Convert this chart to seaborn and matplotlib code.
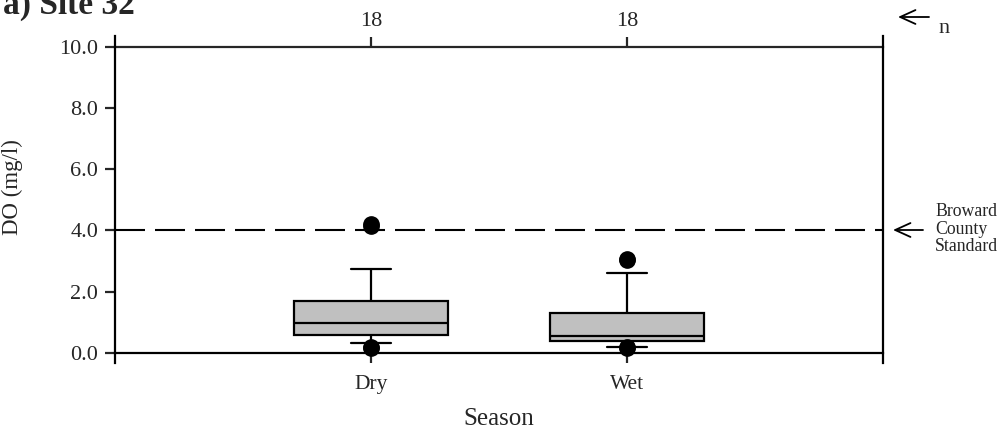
import matplotlib
matplotlib.use('Agg')
import matplotlib.pyplot as plt
import seaborn as sns
import pandas as pd

# data (18 samples per season)
seasons = ['Dry', 'Wet']
dry_do = [0.15, 0.17, 0.32, 0.46, 0.57, 0.61, 0.72, 0.84, 0.92,
          1.00, 1.18, 1.38, 1.62, 1.72, 2.15, 2.74, 4.14, 4.22]
wet_do = [0.15, 0.17, 0.20, 0.28, 0.36, 0.44, 0.47, 0.52, 0.55,
          0.57, 0.74, 0.98, 1.25, 1.32, 1.95, 2.62, 3.02, 3.06]
n_labels = ['18', '18']
standard = 4.0
y_ticks = [0.0, 2.0, 4.0, 6.0, 8.0, 10.0]

df = pd.DataFrame({
    'Season': ['Dry'] * len(dry_do) + ['Wet'] * len(wet_do),
    'DO': dry_do + wet_do,
})

sns.set_style('ticks')
plt.rcParams['font.family'] = ['Liberation Serif', 'DejaVu Serif']
plt.rcParams['axes.linewidth'] = 1.6

W, H = 1003, 432
fig = plt.figure(figsize=(W / 100, H / 100), dpi=100)
ax = fig.add_axes([115 / W, 1 - 363 / H, (883 - 115) / W, (363 - 36) / H])

lw = 1.6
sns.boxplot(data=df, x='Season', y='DO', order=seasons, ax=ax,
            width=0.6, whis=(10, 90), color='#c0c0c0', saturation=1,
            linecolor='black', linewidth=lw, capwidths=0.156,
            flierprops=dict(marker='o', markersize=11, markerfacecolor='black',
                            markeredgecolor='black', linestyle='none'))

ax.axhline(standard, color='black', lw=1.5, linestyle=(0, (14.4, 4.8)), zorder=0.5)

ylo, yhi = -0.34, 10.37
ax.set_xlim(-1, 2)
ax.set_ylim(ylo, yhi)
ax.set_yticks(y_ticks)
ax.set_yticklabels([f'{v:.1f}' for v in y_ticks])

ax.spines['top'].set_visible(False)
ax.spines['bottom'].set_position(('data', 0))
for s in ['left', 'right', 'bottom']:
    ax.spines[s].set_linewidth(lw)
    ax.spines[s].set_color('black')

ax.tick_params(axis='y', direction='out', length=7, width=lw, labelsize=16, pad=5, right=False)
ax.tick_params(axis='x', direction='out', length=7, width=lw, labelsize=15.5, pad=9)

# n counts on a top axis at y = 10
top = ax.secondary_xaxis((10 - ylo) / (yhi - ylo))
top.set_xticks([0, 1])
top.set_xticklabels(n_labels)
top.spines['top'].set_linewidth(lw)
top.tick_params(axis='x', direction='out', length=7, width=lw, labelsize=16, pad=5)

ax.set_xlabel('Season', fontsize=18)
ax.xaxis.set_label_coords(0.5, (363 - 408) / 327)
ax.set_ylabel('DO (mg/l)', fontsize=16.5)
ax.yaxis.set_label_coords((23 - 115) / 768, (363 - 187) / 327)

# annotations outside the axes
fig.text(3 / W, 1 - 14 / H, 'a) Site 32', fontsize=24, fontweight='bold',
         ha='left', va='baseline')
arrow = dict(arrowstyle='->, head_length=1.1, head_width=0.5', lw=1.3,
             color='black', shrinkA=0, shrinkB=0, mutation_scale=10)
fig.add_artist(matplotlib.patches.FancyArrowPatch(
    (929 / W, 1 - 17 / H), (898 / W, 1 - 17 / H), transform=fig.transFigure, **arrow))
fig.text(938 / W, 1 - 33 / H, 'n', fontsize=16, ha='left', va='baseline')
fig.add_artist(matplotlib.patches.FancyArrowPatch(
    (923 / W, 1 - 230 / H), (893 / W, 1 - 230 / H), transform=fig.transFigure, **arrow))
fig.text(935 / W, 1 - 229 / H, 'Broward\nCounty\nStandard', fontsize=12.8,
         ha='left', va='center', linespacing=1.05)

fig.savefig('out.png', dpi=100)
